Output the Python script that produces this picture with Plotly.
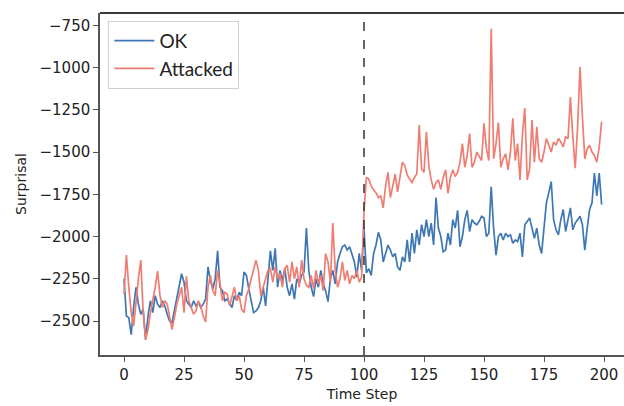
import plotly.graph_objects as go

time_steps = list(range(200))

ok_values = [
    -2250, -2470, -2480, -2580, -2420, -2300, -2400, -2460, -2430, -2610,
    -2470, -2380, -2450, -2350, -2400, -2420, -2380, -2410, -2460, -2500,
    -2510, -2440, -2350, -2280, -2220, -2270, -2380, -2400, -2420, -2380,
    -2410, -2390, -2420, -2400, -2370, -2180, -2260, -2310, -2250, -2085,
    -2300, -2320, -2380, -2370, -2400, -2420, -2350, -2380, -2330, -2350,
    -2210, -2230, -2310, -2380, -2450, -2440, -2420, -2380, -2300, -2410,
    -2250, -2085, -2200, -2070, -2300, -2200, -2260, -2190, -2300, -2350,
    -2280, -2370, -2250, -2280, -2230, -2210, -1950, -2200, -2300, -2355,
    -2250, -2300, -2200, -2280, -2320, -2385, -2250, -2200, -2280, -2150,
    -2100, -2060, -2050, -2080, -2060, -2100, -2150, -2240, -2100, -2200,
    -1950, -2215, -2190, -2230, -2100, -2050, -1975, -2020, -2150, -2100,
    -2050, -2080, -2120, -2100, -2180, -2200, -2120, -2150, -2020, -2150,
    -1980, -2100, -1960, -2050, -1930, -2000, -1900, -2000, -1920, -2050,
    -1770, -1950, -2000, -2090, -2080, -1980, -2050, -1900, -1950, -1845,
    -2060, -2000, -1900, -1845, -1970, -1900, -1920, -1930, -1910, -1880,
    -1890, -2000, -1980, -1705, -1950, -2110, -2000, -1980, -2020, -1980,
    -2000, -1990, -2040, -2020, -2030, -1980, -2120, -1930, -1910, -1890,
    -1950, -2010, -1950, -2050, -2100, -1950, -1800, -1740, -1675, -1900,
    -1960, -1990, -1900, -1840, -1970, -1900, -1830, -1960, -1920, -1900,
    -1880, -1930, -2080, -1950, -1840, -1800, -1625, -1760, -1625, -1810,
]

attacked_values = [
    -2340, -2110, -2300, -2450, -2530, -2380, -2250, -2140, -2450, -2610,
    -2550, -2450, -2380, -2300, -2205, -2350, -2420, -2380, -2400, -2470,
    -2550, -2480, -2400, -2350, -2300, -2450, -2235, -2380, -2420, -2460,
    -2440, -2380, -2410, -2470, -2505, -2300, -2230, -2320, -2350, -2200,
    -2280, -2380, -2330, -2340, -2410, -2360, -2300, -2380, -2350, -2430,
    -2450, -2350, -2310, -2250, -2200, -2140, -2200, -2350, -2300, -2250,
    -2200, -2190, -2270, -2180, -2250, -2220, -2300, -2190, -2170, -2270,
    -2150, -2250, -2180, -2300, -2140, -2250, -2290, -2300, -2230, -2310,
    -2200, -2280, -2230, -2320, -2100, -2150, -2270, -1920, -2200, -2300,
    -2250, -2150, -2260, -2200, -2280, -2230, -2250, -2200, -2270, -2240,
    -1850, -1650, -1660, -1700, -1725, -1740, -1770, -1760, -1830, -1700,
    -1620, -1770, -1700, -1630, -1735, -1640, -1560, -1580, -1635, -1660,
    -1680, -1650, -1630, -1340, -1600, -1620, -1380, -1580, -1665, -1720,
    -1680, -1665, -1720, -1650, -1605, -1745, -1650, -1605, -1645, -1620,
    -1560, -1450, -1590, -1520, -1390, -1590, -1560, -1500, -1530, -1550,
    -1330, -1480, -1550, -770, -1540, -1450, -1325, -1590, -1540, -1510,
    -1605, -1500, -1300, -1550, -1450, -1665, -1400, -1240, -1665, -1600,
    -1310, -1560, -1350, -1540, -1560, -1500, -1420, -1460, -1500, -1440,
    -1460, -1420, -1440, -1470, -1410, -1420, -1175, -1410, -1595, -1350,
    -995, -1290, -1540, -1480, -1460, -1500, -1520, -1560, -1470, -1320,
]

attack_step = 100
x_tick_values = [0, 25, 50, 75, 100, 125, 150, 175, 200]
y_tick_values = [-2500, -2250, -2000, -1750, -1500, -1250, -1000, -750]

fig = go.Figure()
fig.add_trace(go.Scatter(x=time_steps, y=ok_values, mode="lines", name="OK",
                         line=dict(color="#3f77b3", width=1.7)))
fig.add_trace(go.Scatter(x=time_steps, y=attacked_values, mode="lines", name="Attacked",
                         line=dict(color="#f07d72", width=1.7)))

fig.add_vline(x=attack_step, line=dict(color="#333333", width=1.5, dash="dash"))

# top spine (darker, as in the reference)
fig.add_shape(type="line", xref="paper", yref="paper", x0=0, x1=1, y0=1, y1=1,
              line=dict(color="#3a3a3a", width=2))

fig.update_layout(
    width=624, height=406,
    margin=dict(l=100, r=0, t=13, b=51),
    paper_bgcolor="white", plot_bgcolor="white",
    font=dict(family="DejaVu Sans", size=14, color="#222222"),
    showlegend=True,
    legend=dict(
        x=0.016, y=0.977, xanchor="left", yanchor="top",
        bgcolor="rgba(255,255,255,0.85)", bordercolor="#d0d0d0", borderwidth=1,
        font=dict(family="Lato", size=19, color="#222222"),
        tracegroupgap=0, itemwidth=40,
    ),
    xaxis=dict(
        range=[-10, 208.33], tickvals=x_tick_values,
        showgrid=False, zeroline=False,
        showline=True, linecolor="#555555", linewidth=1.5,
        ticks="outside", ticklen=5, tickcolor="#555555",
        tickfont=dict(size=15),
        title=dict(text="Time Step", font=dict(size=14), standoff=6),
    ),
    yaxis=dict(
        range=[-2701, -677], tickvals=y_tick_values,
        showgrid=False, zeroline=False,
        showline=True, linecolor="#555555", linewidth=1.5,
        ticks="outside", ticklen=5, tickcolor="#555555",
        tickfont=dict(size=15),
        title=dict(text="Surprisal", font=dict(size=14), standoff=10),
    ),
)

fig.write_html("out.html")
